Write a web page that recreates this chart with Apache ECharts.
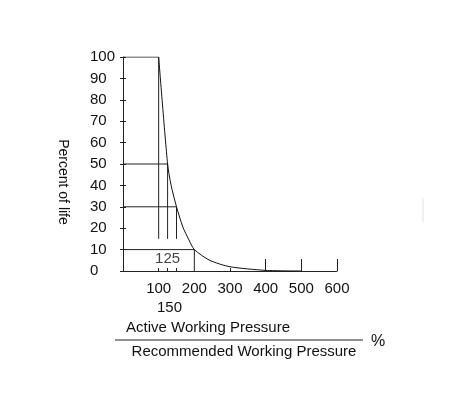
<!DOCTYPE html>
<html>
<head>
<meta charset="utf-8">
<script src="https://cdn.jsdelivr.net/npm/echarts@6/dist/echarts.min.js"></script>
<style>
  html, body { margin: 0; padding: 0; background: #fff; }
  #chart { width: 466px; height: 398px; }
</style>
</head>
<body>
<div id="chart"></div>
<script>
(function(){
    var chart = echarts.init(document.getElementById('chart'));

    // life curve: pressure ratio (%) -> percent of life
    var pressure = [100, 125, 135, 150, 168, 185, 200, 243, 300, 400, 500];
    var life     = [100, 50, 40, 30, 20.5, 14.5, 10, 5, 2, 0.3, 0];

    // guide lines: level, x where it meets the curve, bottom of the drop line
    var guideLevel  = [100, 50, 30, 10];
    var guideX      = [100, 125, 150, 200];
    var guideBottom = [15, 15, 15, 0];

    var xLabels = [100, 200, 300, 400, 500, 600];
    var xLabels2 = [150];
    var bigTicks = [400, 500, 600];
    var smallTicks = [100, 125, 150, 300];
    var innerLabel = [[125, 5.6]];

    var txt = '#111';
    var font = 'Liberation Sans, Arial, sans-serif';

    var series = [];
    series.push({
        type: 'line',
        smooth: 0.25,
        symbol: 'none',
        lineStyle: { color: '#111', width: 1 },
        data: pressure.map(function (p, i) { return [p, life[i]]; }),
        z: 5
    });
    for (var i = 0; i < guideLevel.length; i++) {
        series.push({
            type: 'line',
            symbol: 'none',
            lineStyle: { color: '#222', width: 1 },
            data: [[0, guideLevel[i]], [guideX[i], guideLevel[i]], [guideX[i], guideBottom[i]]]
        });
    }
    series.push({
        type: 'scatter',
        symbolSize: 0,
        data: innerLabel,
        label: {
            show: true,
            position: 'inside',
            formatter: function (p) { return p.value[0]; },
            color: txt, fontSize: 15, fontFamily: font
        }
    });

    var option = {
        animation: false,
        grid: { left: 123, top: 57, width: 214, height: 214 },
        xAxis: [
            {
                type: 'value', min: 0, max: 600, interval: 100,
                splitLine: { show: false },
                axisLine: { lineStyle: { color: '#222', width: 1 } },
                axisTick: { show: true, inside: true, length: 12, customValues: bigTicks, lineStyle: { color: '#222' } },
                axisLabel: { customValues: xLabels, margin: 10, color: txt, fontSize: 15, fontFamily: font }
            },
            {
                type: 'value', min: 0, max: 600, position: 'bottom',
                splitLine: { show: false },
                axisLine: { show: false },
                axisTick: { show: true, inside: true, length: 3, customValues: smallTicks, lineStyle: { color: '#222' } },
                axisLabel: { show: false }
            },
            {
                type: 'value', min: 0, max: 600, position: 'bottom', offset: 19,
                splitLine: { show: false },
                axisLine: { show: false },
                axisTick: { show: false },
                axisLabel: { customValues: xLabels2, margin: 10, padding: [0, 14, 0, 0], color: txt, fontSize: 15, fontFamily: font }
            }
        ],
        yAxis: [
            {
                type: 'value', min: 0, max: 100, interval: 10,
                splitLine: { show: false },
                axisLine: { show: true, lineStyle: { color: '#222', width: 1 } },
                axisTick: { show: true, length: 3, lineStyle: { color: '#222' } },
                axisLabel: { align: 'left', margin: 33, color: txt, fontSize: 15, fontFamily: font }
            },
            {
                type: 'value', min: 0, max: 100, interval: 10, position: 'left',
                splitLine: { show: false },
                axisLine: { show: false },
                axisTick: { show: true, inside: true, length: 3, lineStyle: { color: '#222' } },
                axisLabel: { show: false }
            }
        ],
        series: series,
        graphic: [
            {
                type: 'text', x: 63, y: 182, rotation: -Math.PI / 2,
                style: { text: 'Percent of life', fill: txt, font: '14px ' + font, align: 'center', verticalAlign: 'middle' }
            },
            {
                type: 'text', x: 208, y: 328,
                style: { text: 'Active Working Pressure', fill: txt, font: '15px ' + font, align: 'center', verticalAlign: 'middle' }
            },
            {
                type: 'line', shape: { x1: 115, y1: 340, x2: 363, y2: 340 },
                style: { stroke: '#222', lineWidth: 1 }
            },
            {
                type: 'text', x: 244, y: 352,
                style: { text: 'Recommended Working Pressure', fill: txt, font: '15px ' + font, align: 'center', verticalAlign: 'middle' }
            },
            {
                type: 'text', x: 378, y: 342,
                style: { text: '%', fill: txt, font: '16px ' + font, align: 'center', verticalAlign: 'middle' }
            },
            {
                type: 'line', shape: { x1: 423, y1: 198, x2: 423, y2: 222 },
                style: { stroke: '#e2e2e2', lineWidth: 1 }
            }
        ]
    };

    chart.setOption(option);
})();
</script>
</body>
</html>
